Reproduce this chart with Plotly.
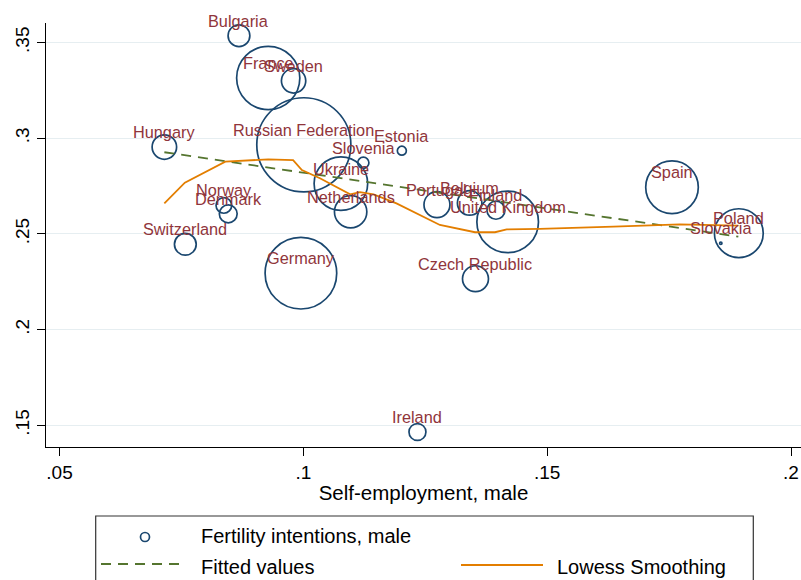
import math
import plotly.graph_objects as go

# ---------------------------------------------------------------- data
countries = [
    "Bulgaria", "France", "Sweden", "Russian Federation", "Hungary",
    "Estonia", "Slovenia", "Ukraine", "Netherlands", "Norway", "Denmark",
    "Switzerland", "Germany", "Portugal", "Belgium", "Finland",
    "United Kingdom", "Czech Republic", "Spain", "Poland", "Slovakia",
    "Ireland",
]
self_employment_male = [
    0.0868, 0.0928, 0.0980, 0.1001, 0.0715,
    0.1202, 0.1123, 0.1077, 0.1097, 0.0837, 0.0846,
    0.0758, 0.0995, 0.1274, 0.1341, 0.1395,
    0.1419, 0.1353, 0.1756, 0.1893, 0.1856,
    0.1234,
]
fertility_intentions_male = [
    0.3536, 0.3315, 0.3300, 0.2966, 0.2954,
    0.2935, 0.2872, 0.2763, 0.2616, 0.2649, 0.2605,
    0.2446, 0.2295, 0.2653, 0.2662, 0.2624,
    0.2563, 0.2266, 0.2744, 0.2504, 0.2451,
    0.1465,
]
# analytic weights (population, millions) -> bubble area
population_weight = [
    7.6, 64.0, 9.5, 141.9, 9.6,
    1.3, 2.0, 46.0, 16.8, 3.9, 5.1,
    7.6, 82.2, 10.8, 9.6, 5.2,
    60.8, 10.8, 44.3, 38.2, 0.09,
    4.6,
]

# linear fit
fitted_x = [0.0715, 0.1892]
fitted_y = [0.2927, 0.2486]

# lowess smoother
lowess_x = [
    0.0715, 0.0757, 0.0840, 0.0928, 0.0979, 0.0997, 0.1034, 0.1096,
    0.1116, 0.1144, 0.1191, 0.1253, 0.1280, 0.1352, 0.1393, 0.1417,
    0.1485, 0.1636, 0.1772, 0.1892,
]
lowess_y = [
    0.2660, 0.2768, 0.2878, 0.2890, 0.2886, 0.2834, 0.2791, 0.2707,
    0.2718, 0.2707, 0.2660, 0.2582, 0.2547, 0.2509, 0.2509, 0.2524,
    0.2527, 0.2538, 0.2550, 0.2543,
]

x_tick_vals = [0.05, 0.10, 0.15, 0.20]
x_tick_text = [".05", ".1", ".15", ".2"]
y_tick_vals = [0.15, 0.20, 0.25, 0.30, 0.35]
y_tick_text = [".15", ".2", ".25", ".3", ".35"]

# ---------------------------------------------------------------- style
NAVY = "#1A476F"
MAROON = "#90353B"
FOREST = "#55752F"
ORANGE = "#E37E00"
GRID = "#E6EEF1"
FONT = "Liberation Sans, Arial, Helvetica, sans-serif"

W, H = 801, 580
ML, MR, MT, MB = 46, 0, 23, 133
PW, PH = W - ML - MR, H - MT - MB

BUBBLE_K = 7.9  # diameter (px) per sqrt(weight)
bubble_diam = [BUBBLE_K * math.sqrt(w) for w in population_weight]


def px_x(p):
    return (p - ML) / PW


def px_y(p):
    return (H - MB - p) / PH


fig = go.Figure()

fig.add_trace(go.Scatter(
    x=self_employment_male, y=fertility_intentions_male,
    mode="markers", name="Fertility intentions, male",
    marker=dict(size=bubble_diam, sizemode="diameter", sizeref=1,
                opacity=1, color="rgba(0,0,0,0)",
                line=dict(color=NAVY, width=1.7)),
    hoverinfo="text", text=countries, showlegend=False,
))
fig.add_trace(go.Scatter(
    x=fitted_x, y=fitted_y, mode="lines", name="Fitted values",
    line=dict(color=FOREST, width=1.8, dash="10px,7px"), showlegend=False,
))
fig.add_trace(go.Scatter(
    x=lowess_x, y=lowess_y, mode="lines", name="Lowess Smoothing",
    line=dict(color=ORANGE, width=1.8), showlegend=False,
))

annotations = []
for name, xv, yv in zip(countries, self_employment_male, fertility_intentions_male):
    annotations.append(dict(
        x=xv, y=yv, xref="x", yref="y", text=name, showarrow=False,
        xanchor="center", yanchor="middle", yshift=15,
        font=dict(family=FONT, size=16.3, color=MAROON),
    ))

# legend block
LEG_FONT = dict(family=FONT, size=20, color="#000000")
legend_items = [
    ("Fertility intentions, male", 200, 536),
    ("Fitted values", 200, 566.5),
    ("Lowess Smoothing", 556, 566.5),
]
for label, lx, ly in legend_items:
    annotations.append(dict(
        x=px_x(lx), y=px_y(ly), xref="paper", yref="paper", text=label,
        showarrow=False, xanchor="left", yanchor="middle", font=LEG_FONT,
        borderpad=0,
    ))

shapes = [
    dict(type="rect", xref="paper", yref="paper",
         x0=px_x(95.7), x1=px_x(753.3), y0=px_y(516), y1=px_y(640),
         line=dict(color="#333333", width=1.2), fillcolor="rgba(0,0,0,0)",
         layer="above"),
    dict(type="circle", xref="paper", yref="paper",
         x0=px_x(140.5), x1=px_x(149.5), y0=px_y(532.5), y1=px_y(541.5),
         line=dict(color=NAVY, width=1.7)),
    dict(type="line", xref="paper", yref="paper",
         x0=px_x(101), x1=px_x(185), y0=px_y(564), y1=px_y(564),
         line=dict(color=FOREST, width=1.8, dash="10px,7px")),
    dict(type="line", xref="paper", yref="paper",
         x0=px_x(461), x1=px_x(543), y0=px_y(565), y1=px_y(565),
         line=dict(color=ORANGE, width=1.8)),
]

fig.update_layout(
    width=W, height=H,
    margin=dict(l=ML, r=MR, t=MT, b=MB, pad=0),
    paper_bgcolor="white", plot_bgcolor="white",
    font=dict(family=FONT, color="#000000"),
    showlegend=False,
    annotations=annotations,
    shapes=shapes,
    xaxis=dict(
        range=[0.04723, 0.20205], tickvals=x_tick_vals, ticktext=x_tick_text,
        ticks="outside", ticklen=8, tickwidth=1.2, tickcolor="#000000",
        showline=True, linecolor="#000000", linewidth=1.2,
        showgrid=False, zeroline=False,
        tickfont=dict(family=FONT, size=19),
        title=dict(text="Self-employment, male",
                   font=dict(family=FONT, size=20.5), standoff=3),
    ),
    yaxis=dict(
        range=[0.13866, 0.36024], tickvals=y_tick_vals, ticktext=y_tick_text,
        tickangle=-90,
        ticks="outside", ticklen=8, tickwidth=1.2, tickcolor="#000000",
        showline=True, linecolor="#000000", linewidth=1.2,
        showgrid=True, gridcolor=GRID, gridwidth=1.2, zeroline=False,
        tickfont=dict(family=FONT, size=19),
    ),
)

fig.write_html("out.html")
